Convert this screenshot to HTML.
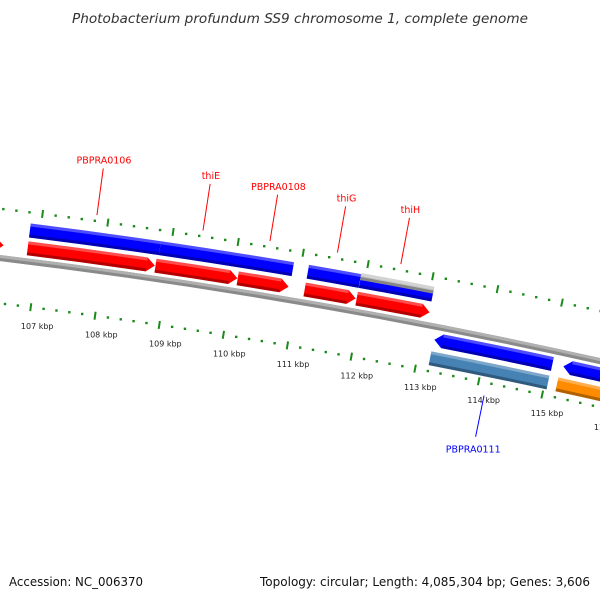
<!DOCTYPE html>
<html><head><meta charset="utf-8"><style>
html,body{margin:0;padding:0;background:#fff;}
svg{display:block;font-family:"DejaVu Sans","Liberation Sans",sans-serif;}
</style></head><body>
<svg id="map" width="600" height="600" viewBox="0 0 600 600" xmlns="http://www.w3.org/2000/svg">
<text x="300" y="23" text-anchor="middle" font-size="13" font-style="italic" fill="#333" textLength="456" lengthAdjust="spacingAndGlyphs">Photobacterium profundum SS9 chromosome 1, complete genome</text>
<g id="plot"></g>
<text x="9" y="586" font-size="12" fill="#111" textLength="134" lengthAdjust="spacingAndGlyphs">Accession: NC_006370</text>
<text x="590" y="586" text-anchor="end" font-size="12" fill="#111" textLength="330" lengthAdjust="spacingAndGlyphs">Topology: circular; Length: 4,085,304 bp; Genes: 3,606</text>
</svg>
<script>
// data arrays
const tickKbp = [105,106,107,108,109,110,111,112,113,114,115,116,117];
const cdsStart = [105500,106840,108810,110080,111116,111922];
const cdsEnd   = [106470,108800,110075,110867,111906,113055];
const geneStart = [106840,108838,111118,111925];
const geneEnd   = [108838,110886,111922,113051];
const miscStart = [111925];
const miscEnd   = [113051];
const revGeneStart = [113207,115226];
const revGeneEnd   = [115054,116800];
const revCdsStart = [113195];
const revCdsEnd   = [115048];
const rnaStart = [115188];
const rnaEnd   = [116800];
const labelNames = ["PBPRA0106","thiE","PBPRA0108","thiG","thiH"];
const labelBp    = [107820,109445,110473,111511,112488];
const revLabelNames = ["PBPRA0111"];
const revLabelBp    = [114125];

const NS="http://www.w3.org/2000/svg";
const CX=-732, CY=6317, R=6103, TH0=0.12624, K=1.071e-5;
const g=document.getElementById('plot');
function ang(bp){return TH0+(bp-107000)*K;}
function pt(bp,r){const t=ang(bp);return [CX+r*Math.sin(t),CY-r*Math.cos(t)];}
function f(p){return p[0].toFixed(2)+','+p[1].toFixed(2);}
function mk(tag,attrs){const e=document.createElementNS(NS,tag);for(const k in attrs)e.setAttribute(k,attrs[k]);g.appendChild(e);return e;}
function band(b1,b2,r1,r2,dir){
  const h=125, rm=(r1+r2)/2;
  let a=b1,b=b2,d;
  if(dir>0){b=Math.max(b1,b2-h);
    d='M'+f(pt(a,r2))+'A'+r2+','+r2+' 0 0 1 '+f(pt(b,r2))+'L'+f(pt(b2,rm))+'L'+f(pt(b,r1))+'A'+r1+','+r1+' 0 0 0 '+f(pt(a,r1))+'Z';
  }else if(dir<0){a=Math.min(b2,b1+h);
    d='M'+f(pt(b1,rm))+'L'+f(pt(a,r2))+'A'+r2+','+r2+' 0 0 1 '+f(pt(b,r2))+'L'+f(pt(b,r1))+'A'+r1+','+r1+' 0 0 0 '+f(pt(a,r1))+'Z';
  }else{
    d='M'+f(pt(a,r2))+'A'+r2+','+r2+' 0 0 1 '+f(pt(b,r2))+'L'+f(pt(b,r1))+'A'+r1+','+r1+' 0 0 0 '+f(pt(a,r1))+'Z';
  }
  return {d:d,a:a,b:b};
}
function arcBand(a,b,r1,r2){return 'M'+f(pt(a,r2))+'A'+r2+','+r2+' 0 0 1 '+f(pt(b,r2))+'L'+f(pt(b,r1))+'A'+r1+','+r1+' 0 0 0 '+f(pt(a,r1))+'Z';}
function feature(name,b1,b2,r1,r2,dir,col){
  const s=band(b1,b2,r1,r2,dir);
  let e=mk('path',{d:s.d,fill:col});
  
  
  e=mk('path',{d:arcBand(s.a,s.b,r2-3,r2),fill:'#fff','fill-opacity':'0.3'});
  
  
  e=mk('path',{d:arcBand(s.a,s.b,r1,r1+3),fill:'#000','fill-opacity':'0.3'});
  
  
}
// backbone
let bb=mk('path',{d:arcBand(104000,118000,R-3,R+3),fill:'#8a8a8a'});


bb=mk('path',{d:arcBand(104000,118000,R,R+3),fill:'#b0b0b0'});


// ticks
function tickRow(rc,side){
  for(let bp=tickKbp[0]*1000;bp<=tickKbp[tickKbp.length-1]*1000;bp+=200){
    const major=(bp%1000===0);
    let e;
    if(major){e=mk('path',{d:'M'+f(pt(bp,rc-4))+'L'+f(pt(bp,rc+4)),stroke:'#1a8a1a','stroke-width':2});}
    else{const p=pt(bp,rc);e=mk('rect',{x:(p[0]-1.2).toFixed(2),y:(p[1]-1.2).toFixed(2),width:2.4,height:2.4,fill:'#1a8a1a'});}
    
    
  }
}
tickRow(R+49,'outer');
tickRow(R-45,'inner');
tickKbp.forEach(k=>{
  const p=pt(k*1000,R-65);
  const t=mk('text',{x:(p[0]+9).toFixed(2),y:(p[1]+2).toFixed(2),'text-anchor':'middle','font-size':'8',fill:'#222'});
  t.textContent=k+' kbp';
  
  
});
// features
for(let i=0;i<cdsStart.length;i++) feature('cds-forward-'+i,cdsStart[i],cdsEnd[i],R+6,R+20,1,'#ff0000');
for(let i=0;i<geneStart.length;i++) feature('gene-forward-'+i,geneStart[i],geneEnd[i],R+24,R+38,0,'#0000ff');
for(let i=0;i<miscStart.length;i++) feature('misc-feature-'+i,miscStart[i],miscEnd[i],R+32,R+39,0,'#c0c0c0');
for(let i=0;i<revGeneStart.length;i++) feature('gene-reverse-'+i,revGeneStart[i],revGeneEnd[i],R-20,R-6,-1,'#0000ff');
for(let i=0;i<revCdsStart.length;i++) feature('cds-reverse-'+i,revCdsStart[i],revCdsEnd[i],R-39,R-25,0,'#4682b4');
for(let i=0;i<rnaStart.length;i++) feature('rna-reverse-'+i,rnaStart[i],rnaEnd[i],R-39,R-25,0,'#ff8c00');
// labels
labelNames.forEach((n,i)=>{
  const b=labelBp[i];
  const l=mk('path',{d:'M'+f(pt(b,R+55))+'L'+f(pt(b,R+102)),stroke:'#ff0000','stroke-width':1});
  
  
  const p=pt(b,R+107);
  const t=mk('text',{x:p[0].toFixed(2),y:p[1].toFixed(2),'text-anchor':'middle','font-size':'9.5',fill:'#ff0000'});
  t.textContent=n;
  
  
});
revLabelNames.forEach((n,i)=>{
  const b=revLabelBp[i];
  const l=mk('path',{d:'M'+f(pt(b,R-58))+'L'+f(pt(b,R-100)),stroke:'#0000ff','stroke-width':1});
  
  
  const p=pt(b,R-112);
  const t=mk('text',{x:p[0].toFixed(2),y:(p[1]+4).toFixed(2),'text-anchor':'middle','font-size':'9.5',fill:'#0000ff'});
  t.textContent=n;
  
  
});
</script>
</body></html>
